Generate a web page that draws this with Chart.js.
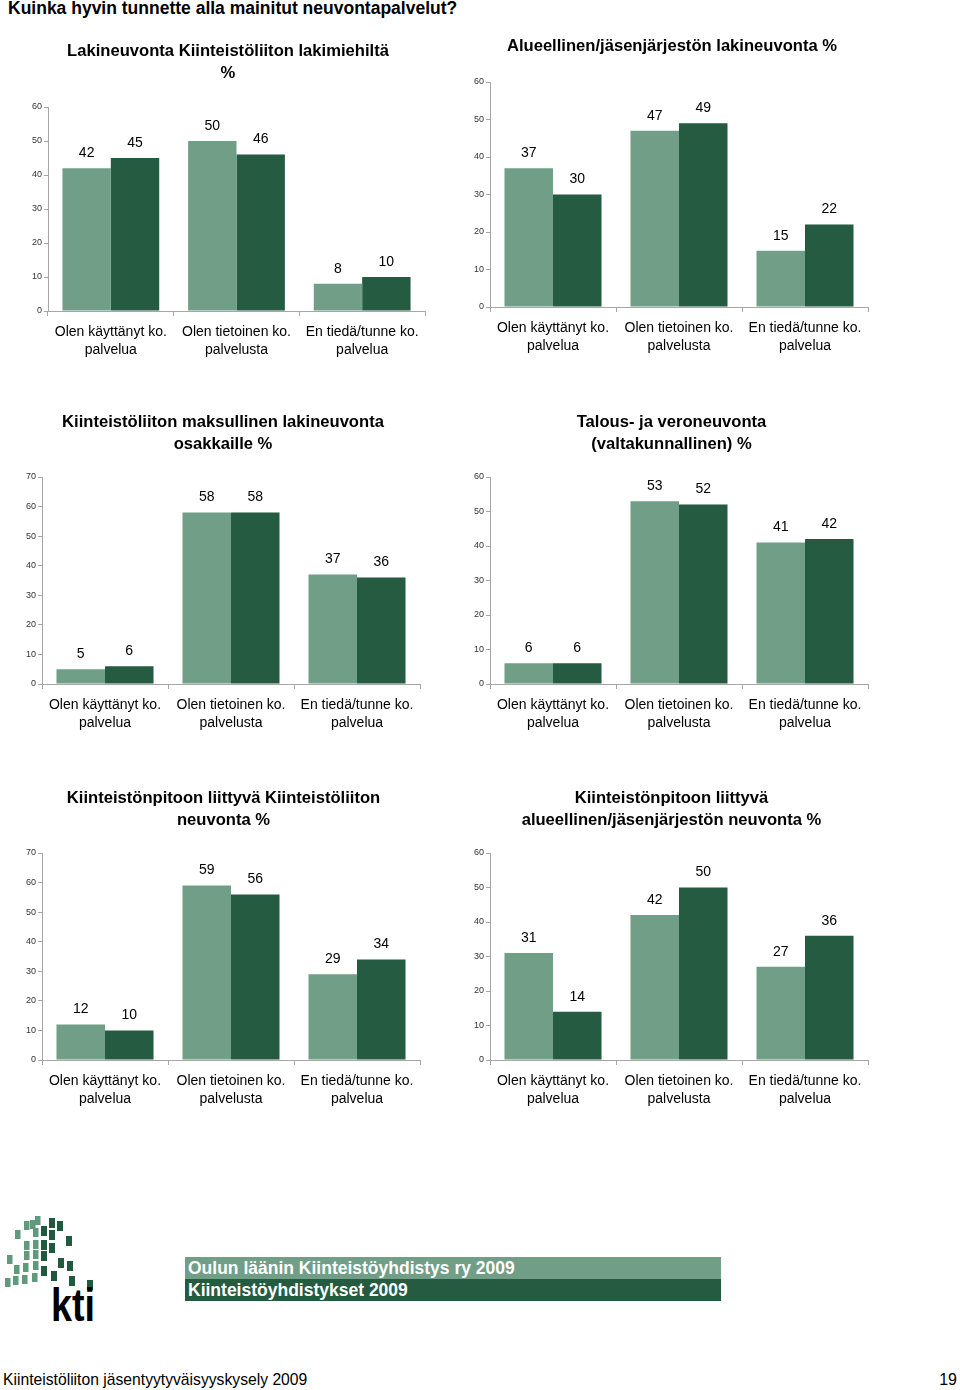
<!DOCTYPE html>
<html>
<head>
<meta charset="utf-8">
<script src="https://cdn.jsdelivr.net/npm/chart.js@4/dist/chart.umd.min.js"></script>
<style>
  body { margin: 0; background: #fff; font-family: "Liberation Sans", Arial, sans-serif; }
  #page { position: relative; width: 960px; height: 1390px; overflow: hidden; }
  .box { position: absolute; }
  #header { position: absolute; left: 8px; top: -2px; font-size: 17.5px; line-height: 20px; font-weight: bold; color: #000; }
  .leg { position: absolute; left: 185px; width: 536px; height: 22px; line-height: 22px; color: #fff; font-weight: bold;
         font-size: 17.5px; padding-left: 3px; box-sizing: border-box; }
  #foot { position: absolute; left: 3px; top: 1370px; font-size: 15.7px; line-height: 20px; }
  #pageno { position: absolute; right: 3px; top: 1370px; font-size: 16px; line-height: 20px; }
  #logo { position: absolute; left: 0; top: 1205px; }
</style>
</head>
<body>
<div id="page">
  <div id="header">Kuinka hyvin tunnette alla mainitut neuvontapalvelut?</div>
  <div class="box" id="b1"><canvas id="chart1"></canvas></div>
  <div class="box" id="b2"><canvas id="chart2"></canvas></div>
  <div class="box" id="b3"><canvas id="chart3"></canvas></div>
  <div class="box" id="b4"><canvas id="chart4"></canvas></div>
  <div class="box" id="b5"><canvas id="chart5"></canvas></div>
  <div class="box" id="b6"><canvas id="chart6"></canvas></div>
  <svg id="logo" width="110" height="125"></svg>
  <div class="leg" id="leg1" style="top:1257px;background:#709e86"></div>
  <div class="leg" id="leg2" style="top:1279px;background:#245b41"></div>
  <div id="foot">Kiinteistöliiton jäsentyytyväisyyskysely 2009</div>
  <div id="pageno">19</div>
</div>

<script>
// categories and series
const categories = [
    ['Olen käyttänyt ko.', 'palvelua'],
    ['Olen tietoinen ko.', 'palvelusta'],
    ['En tiedä/tunne ko.', 'palvelua']
];
const seriesNames = ['Oulun läänin Kiinteistöyhdistys ry 2009', 'Kiinteistöyhdistykset 2009'];
const seriesColors = ['#709e86', '#245b41'];

// values, %
const lakiOulu = [42, 50, 8];
const lakiKaikki = [45, 46, 10];
const alueOulu = [37, 47, 15];
const alueKaikki = [30, 49, 22];
const maksuOulu = [5, 58, 37];
const maksuKaikki = [6, 58, 36];
const veroOulu = [6, 53, 41];
const veroKaikki = [6, 52, 42];
const pitoOulu = [12, 59, 29];
const pitoKaikki = [10, 56, 34];
const pitoAlueOulu = [31, 42, 27];
const pitoAlueKaikki = [14, 50, 36];

const titles = [
    ['Lakineuvonta Kiinteistöliiton lakimiehiltä', '%'],
    ['Alueellinen/jäsenjärjestön lakineuvonta %'],
    ['Kiinteistöliiton maksullinen lakineuvonta', 'osakkaille %'],
    ['Talous- ja veroneuvonta', '(valtakunnallinen) %'],
    ['Kiinteistönpitoon liittyvä Kiinteistöliiton', 'neuvonta %'],
    ['Kiinteistönpitoon liittyvä', 'alueellinen/jäsenjärjestön neuvonta %']
];
const yMax = [60, 60, 70, 60, 70, 60];

// boxes: left, top, width, height, y axis width, space above plot, title centre x
const boxes = [
    [0, 36, 440, 330, 48, 71, 228],
    [450, 31, 433, 331, 40, 51, 222],
    [0, 407, 435, 332, 42, 70, 223],
    [450, 407, 433, 332, 40, 70, 221.5],
    [0, 783, 435, 332, 42, 70, 223.5],
    [450, 783, 433, 332, 40, 70, 221.5]
];

const seriesData = [
    [lakiOulu, lakiKaikki],
    [alueOulu, alueKaikki],
    [maksuOulu, maksuKaikki],
    [veroOulu, veroKaikki],
    [pitoOulu, pitoKaikki],
    [pitoAlueOulu, pitoAlueKaikki]
];

const FONT = '"Liberation Sans", Arial, sans-serif';
const axisGray = '#a6a6a6';

// numbers above the bars
const barValues = {
    id: 'barValues',
    afterDatasetsDraw(chart) {
        const ctx = chart.ctx;
        ctx.save();
        ctx.font = '14px ' + FONT;
        ctx.fillStyle = '#000';
        ctx.textAlign = 'center';
        ctx.textBaseline = 'middle';
        chart.data.datasets.forEach((ds, i) => {
            chart.getDatasetMeta(i).data.forEach((bar, j) => {
                ctx.fillText(String(ds.data[j]), bar.x, bar.y - 15);
            });
        });
        ctx.restore();
    }
};

// panel title, centred on a given x
const panelTitle = {
    id: 'panelTitle',
    afterDraw(chart, args, opts) {
        const ctx = chart.ctx;
        ctx.save();
        ctx.font = 'bold 16.6px ' + FONT;
        ctx.fillStyle = '#000';
        ctx.textAlign = 'center';
        ctx.textBaseline = 'middle';
        opts.lines.forEach((line, i) => ctx.fillText(line, opts.x, 15 + i * 22));
        ctx.restore();
    }
};

seriesData.forEach((pair, k) => {
    const b = boxes[k];
    const wrap = document.getElementById('b' + (k + 1));
    wrap.style.left = b[0] + 'px';
    wrap.style.top = b[1] + 'px';
    const canvas = document.getElementById('chart' + (k + 1));
    canvas.width = b[2];
    canvas.height = b[3];
    canvas.style.width = b[2] + 'px';
    canvas.style.height = b[3] + 'px';

    new Chart(canvas.getContext('2d'), {
        type: 'bar',
        data: {
            labels: categories,
            datasets: pair.map((vals, i) => ({
                label: seriesNames[i],
                data: vals,
                backgroundColor: seriesColors[i],
                borderWidth: 0,
                categoryPercentage: 0.77,
                barPercentage: 1.0
            }))
        },
        options: {
            responsive: false,
            animation: false,
            layout: { padding: { left: 0, right: 15, top: b[5], bottom: 0 } },
            plugins: {
                legend: { display: false },
                tooltip: { enabled: false },
                title: { display: false },
                panelTitle: { lines: titles[k], x: b[6] }
            },
            scales: {
                x: {
                    afterFit(scale) { scale.height = 55; },
                    border: { color: axisGray, width: 1 },
                    grid: { drawOnChartArea: false, drawTicks: true, tickLength: 5, color: axisGray },
                    ticks: { color: '#000', padding: 7, maxRotation: 0, font: { family: FONT, size: 14, lineHeight: 1.28 } }
                },
                y: {
                    min: 0,
                    max: yMax[k],
                    afterFit(scale) { scale.width = b[4]; },
                    border: { color: axisGray, width: 1 },
                    grid: { drawOnChartArea: false, drawTicks: true, tickLength: 4, color: axisGray },
                    ticks: { stepSize: 10, color: '#333', padding: 2, font: { family: FONT, size: 9 } }
                }
            }
        },
        plugins: [barValues, panelTitle]
    });
});

document.getElementById('leg1').textContent = seriesNames[0];
document.getElementById('leg2').textContent = seriesNames[1];

// kti logo
const svg = document.getElementById('logo');
const ns = 'http://www.w3.org/2000/svg';
const lightSq = [[24,16],[30,15],[35,11],[15,25],[33,23],[24,36],[33,35],
                 [7,50],[24,46],[33,45],[14,60],[23,58],[33,56],
                 [5,73],[13,71],[22,70],[32,68]];
const darkSq = [[49,13],[57,16],[41,21],[49,25],[66,31],[41,35],[49,38],
                [41,46],[58,53],[67,56],[41,61],[51,66],[69,71],[87,75]];
lightSq.forEach(p => {
    const r = document.createElementNS(ns, 'rect');
    r.setAttribute('x', p[0]); r.setAttribute('y', p[1]);
    r.setAttribute('width', 5.5); r.setAttribute('height', 9);
    r.setAttribute('fill', '#5f9a7c');
    svg.appendChild(r);
});
darkSq.forEach(p => {
    const r = document.createElementNS(ns, 'rect');
    r.setAttribute('x', p[0]); r.setAttribute('y', p[1]);
    r.setAttribute('width', 6); r.setAttribute('height', 10);
    r.setAttribute('fill', '#1f5a3e');
    svg.appendChild(r);
});
const t = document.createElementNS(ns, 'text');
t.setAttribute('x', 51); t.setAttribute('y', 116);
t.setAttribute('font-family', FONT); t.setAttribute('font-weight', 'bold');
t.setAttribute('font-size', 46); t.setAttribute('textLength', 44);
t.setAttribute('lengthAdjust', 'spacingAndGlyphs');
t.textContent = 'kti';
svg.appendChild(t);
</script>
</body>
</html>
